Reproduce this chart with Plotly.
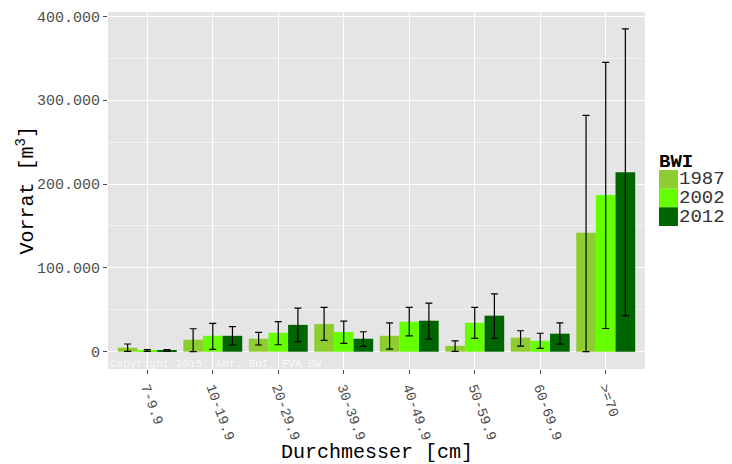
import plotly.graph_objects as go

categories = ["7-9.9", "10-19.9", "20-29.9", "30-39.9", "40-49.9", "50-59.9", "60-69.9", ">=70"]
years = ["1987", "2002", "2012"]

v1987 = [4800, 14300, 15500, 33000, 19000, 7000, 16700, 142000]
up1987 = [9200, 27400, 23000, 53000, 34500, 13000, 25000, 281800]
lo1987 = [500, 0, 8000, 13500, 3000, 500, 6700, 0]

v2002 = [1500, 19000, 22600, 23500, 35700, 34500, 13000, 187000]
up2002 = [2600, 33700, 36000, 36500, 52800, 53000, 22000, 345000]
lo2002 = [500, 2800, 8300, 10000, 19000, 16000, 4000, 27700]

v2012 = [1300, 19000, 32000, 15500, 37000, 43000, 21500, 214000]
up2012 = [2600, 30000, 52000, 23800, 58000, 69000, 34500, 385000]
lo2012 = [300, 8000, 12000, 6300, 15000, 16000, 9000, 43000]

colors = ["#8ecd30", "#66ff00", "#006400"]
series = [(v1987, up1987, lo1987), (v2002, up2002, lo2002), (v2012, up2012, lo2012)]

mono = "Liberation Mono, Courier New, monospace"

L, R, T, B = 108, 87, 12, 95
W, H = 732, 464
PW, PH = W - L - R, H - T - B

def px(xp):
    return (xp - L) / PW

def py(yp):
    return (H - B - yp) / PH

fig = go.Figure()
for yr, (vals, ups, los), col in zip(years, series, colors):
    fig.add_trace(go.Bar(
        x=categories, y=vals, name=yr, marker=dict(color=col, line=dict(width=0)),
        error_y=dict(type="data", symmetric=False,
                     array=[u - v for u, v in zip(ups, vals)],
                     arrayminus=[v - l for v, l in zip(vals, los)],
                     color="black", thickness=1.2, width=3.5),
        showlegend=False,
    ))

fig.update_layout(
    width=W, height=H,
    margin=dict(l=L, r=R, t=T, b=B, autoexpand=False),
    paper_bgcolor="white", plot_bgcolor="#E5E5E5",
    barmode="group", bargap=0.1, bargroupgap=0,
    separators=",.",
    font=dict(family=mono, color="black"),
)
fig.update_xaxes(
    range=[-0.6, 7.6], showgrid=True, gridcolor="white", gridwidth=1.2,
    ticks="outside", ticklen=4, tickcolor="#4d4d4d", tickwidth=1,
    tickangle=70, tickfont=dict(family=mono, size=14, color="#4d4d4d"),
    automargin=False,
    zeroline=False, showline=False,
)
fig.update_yaxes(
    range=[-20600, 405100], tickvals=[0, 100000, 200000, 300000, 400000],
    tickformat=",d", showgrid=True, gridcolor="white", gridwidth=1.2,
    minor=dict(dtick=50000, tick0=0, showgrid=True, gridcolor="#F2F2F2", gridwidth=0.6),
    ticks="outside", ticklen=4, tickcolor="#4d4d4d", tickwidth=1,
    tickfont=dict(family=mono, size=15, color="#4d4d4d"),
    automargin=False,
    zeroline=False, showline=False,
)

# axis titles
fig.add_annotation(text="Durchmesser [cm]", xref="paper", yref="paper",
                   x=0.5, y=py(452), xanchor="center", yanchor="middle", showarrow=False,
                   font=dict(family=mono, size=20, color="black"))
fig.add_annotation(text="Vorrat [m<sup>3</sup>]", xref="paper", yref="paper",
                   x=px(25), y=0.5, xanchor="center", yanchor="middle", showarrow=False,
                   textangle=-90, font=dict(family=mono, size=20, color="black"))

fig.add_annotation(text="Copyright 2015: Abt. BuI, FVA BW", xref="paper", yref="paper",
                   x=0, y=0, xanchor="left", yanchor="bottom", yshift=-3, showarrow=False,
                   font=dict(family=mono, size=11, color="rgba(255,255,255,0.8)"))

# legend (custom, ggplot style)
x0p, x1p = px(659), px(678)
fig.add_annotation(text="<b>BWI</b>", xref="paper", yref="paper", x=x0p, y=py(162),
                   xanchor="left", yanchor="middle", showarrow=False, xshift=-2,
                   font=dict(family=mono, size=19, color="black"))
tops = [170, 188.7, 207.3]
for yr, col, t in zip(years, colors, tops):
    b = t + 18.7
    fig.add_shape(type="rect", xref="paper", yref="paper", x0=x0p, x1=x1p,
                  y0=py(b), y1=py(t), fillcolor=col, line=dict(width=0))
    fig.add_annotation(text=yr, xref="paper", yref="paper", x=px(679),
                       y=py(t + 9.35), xanchor="left", yanchor="middle",
                       showarrow=False, xshift=-2,
                       font=dict(family=mono, size=19, color="#333333"))

fig.write_html("out.html", config={"displayModeBar": False},
               post_script="document.body.style.margin='0';document.body.style.padding='0';")
